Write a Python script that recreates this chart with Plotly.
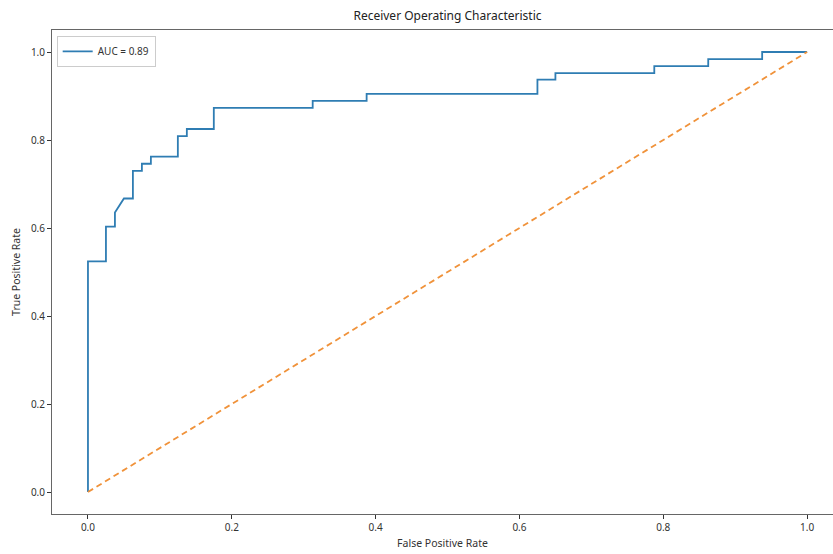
import plotly.graph_objects as go

# ROC curve points
fpr = [0.0, 0.0, 0.025, 0.025, 0.0375, 0.0375, 0.05, 0.0625, 0.0625, 0.075, 0.075,
       0.0875, 0.0875, 0.125, 0.125, 0.1375, 0.1375, 0.175, 0.175, 0.3125, 0.3125,
       0.3875, 0.3875, 0.625, 0.625, 0.65, 0.65, 0.7875, 0.7875, 0.8625, 0.8625,
       0.9375, 0.9375, 1.0]
tpr = [0.0, 0.524, 0.524, 0.603, 0.603, 0.635, 0.667, 0.667, 0.730, 0.730, 0.746,
       0.746, 0.762, 0.762, 0.809, 0.809, 0.825, 0.825, 0.873, 0.873, 0.889,
       0.889, 0.905, 0.905, 0.937, 0.937, 0.952, 0.952, 0.968, 0.968, 0.984,
       0.984, 1.0, 1.0]
chance_x = [0.0, 1.0]
chance_y = [0.0, 1.0]
auc_label = "AUC = 0.89"
x_ticks = [0.0, 0.2, 0.4, 0.6, 0.8, 1.0]
y_ticks = [0.0, 0.2, 0.4, 0.6, 0.8, 1.0]

FONT = "Noto Sans"
W, H = 833, 554

fig = go.Figure()
fig.add_trace(go.Scatter(x=fpr, y=tpr, mode="lines", name=auc_label,
                         line=dict(color="#2f7db3", width=1.8)))
fig.add_trace(go.Scatter(x=chance_x, y=chance_y, mode="lines", showlegend=False,
                         line=dict(color="#f0923a", width=1.8, dash="6px,4px")))

axis_common = dict(showgrid=False, zeroline=False, showline=True, linecolor="#666",
                   linewidth=1, ticks="outside", ticklen=4, tickcolor="#333",
                   automargin=False,
                   tickfont=dict(family=FONT, size=10, color="#333"))

fig.update_layout(
    width=W, height=H,
    margin=dict(l=52, r=0, t=30, b=40),
    paper_bgcolor="white", plot_bgcolor="white",
    font=dict(family=FONT, size=10, color="#333"),
    title=dict(text="Receiver Operating Characteristic", xref="container",
               x=447.5 / W, xanchor="center",
               yref="container", y=1 - 16 / H, yanchor="middle",
               font=dict(family=FONT, size=12, color="#222")),
    xaxis=dict(range=[-0.05, 1.036], tickvals=x_ticks, tickformat=".1f",
               mirror=True,
               title=dict(text="False Positive Rate", standoff=6,
                          font=dict(family=FONT, size=10.5, color="#333")),
               **axis_common),
    yaxis=dict(range=[-0.05, 1.05], tickvals=y_ticks, tickformat=".1f",
               title=dict(text="True Positive Rate", standoff=8,
                          font=dict(family=FONT, size=10.5, color="#333")),
               **axis_common),
    legend=dict(x=0.006, y=0.988, xanchor="left", yanchor="top",
                bgcolor="rgba(255,255,255,0.8)", bordercolor="#ccc", borderwidth=1,
                itemwidth=30, tracegroupgap=0,
                font=dict(family=FONT, size=10, color="#333")),
)

fig.write_html("out.html",
               config={"displayModeBar": False},
               post_script="document.body.style.margin='0';"
                           "document.body.style.overflow='hidden';")
